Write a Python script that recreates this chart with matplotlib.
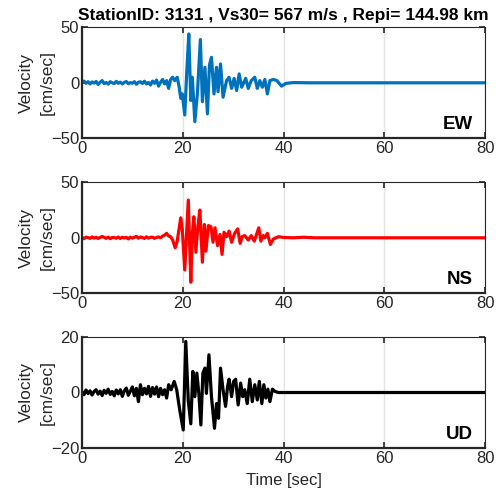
import numpy as np
import matplotlib
matplotlib.use("Agg")
import matplotlib.pyplot as plt

plt.rcParams["font.family"] = ["Liberation Sans", "DejaVu Sans"]

TITLE = "StationID: 3131 , Vs30= 567 m/s , Repi= 144.98 km"

# pre-event noise, sampled every 0.4 s from 0 to 17.2 s
t_noise = np.arange(44) * 0.4
ew_noise = [0.5, 1.5, -0.5, 1.0, -1.0, 0.8, -0.3, 1.2, -1.5, 0.5,
            2.0, -0.8, 0.3, -1.2, 1.0, 0.0, -0.7, 1.3, -0.5, 0.6,
            -1.0, 0.4, 1.1, -0.9, 0.2, -0.4, 1.0, -1.3, 0.5, 0.9,
            -0.6, 1.4, -1.0, 0.3, -2.0, 1.5, -0.5, 2.5, -3.0, 0.5,
            3.0, -1.0, 2.0, -5.0]
ns_noise = [0.5, -0.8, 0.6, 0.2, -0.5, 0.8, -0.3, 0.5, -0.6, 0.3,
            1.2, 0.4, -0.5, 0.6, -0.8, 0.3, 0.2, -0.4, 0.7, -0.6,
            0.5, -0.2, 0.4, -1.0, 0.6, -0.3, 0.5, 1.3, -0.4, 0.8,
            0.2, -0.6, 0.9, -0.3, 0.4, 0.6, -0.5, 0.3, 0.8, 0.1,
            1.5, 2.5, 4.0, 1.5]
ud_noise = [0.3, -0.8, 0.9, -0.4, 0.6, -0.9, 0.4, 1.0, -0.6, 0.5,
            -1.1, 0.8, -0.3, 1.2, -0.7, 0.4, -1.2, 0.9, -0.5, 1.0,
            -1.4, 0.6, 1.6, -1.0, 0.5, 2.0, -1.2, 1.5, -3.3, 2.8,
            -0.8, 1.5, -0.5, 2.2, -1.4, 1.8, -0.6, 2.0, -1.5, 1.5,
            -0.8, 1.0, -2.0, 2.8]

# strong-motion part (time [s], velocity [cm/s])
ew_t = [17.6, 18.0, 18.4, 18.9, 19.3, 19.6, 19.9, 20.4, 20.8, 21.2, 21.6, 21.9,
        22.4, 22.9, 23.5, 23.9, 24.4, 24.9, 25.3, 25.7, 26.2, 26.7, 27.0, 27.5,
        28.0, 28.7, 29.2, 29.7, 30.2, 30.7, 31.2, 31.7, 32.5, 33.0, 33.6, 34.3,
        34.8, 35.3, 35.8, 36.3, 36.8, 37.3, 38.0, 38.7, 39.6, 40.5, 42.0, 45.0, 80.0]
ew_v = [3, 5, 2, 5, -4, -14, -10, -29, 10, 44, -16, 5,
        -35, -10, 39, -17, 14, -28, 16, 23, -10, 14, -8, 17,
        -13, 2, 5, -5, 4, -7, 8, -4, 4, -5, 2, 5,
        -5, 2, -4, 3, -10, 2, 3, 2, -3, -0.5, 0.2, 0, 0]

ns_t = [17.6, 18.0, 18.5, 18.9, 19.6, 19.9, 20.4, 21.1, 21.6, 21.9, 22.2, 22.6,
        23.0, 23.4, 23.9, 24.3, 24.6, 25.1, 25.6, 26.0, 26.4, 26.9, 27.4, 27.8,
        28.2, 28.7, 29.2, 29.7, 30.3, 30.9, 31.4, 31.8, 32.3, 33.0, 33.6, 34.2,
        35.1, 35.5, 36.0, 36.3, 36.8, 37.4, 38.0, 39.0, 40.0, 42.0, 44.0, 46.0, 80.0]
ns_v = [1, -2, -9, -3, 18, 8, -29, 34, -40, 3, 19, -13,
        10, 25, -22, 12, -12, 11, 10, -4, 9, -7, 3, -15,
        5, 1, 6, -4, 4, 8, -5, 1, 2, -2, 2, -3,
        9, -3, 2, 0, 4, -6, -1, 1, 0.3, 0, 0.5, 0, 0]

ud_t = [17.7, 18.3, 18.8, 19.4, 20.1, 20.6, 21.1, 21.6, 22.0, 22.4, 22.8, 23.2,
        23.6, 24.0, 24.4, 24.7, 25.2, 25.7, 26.3, 26.7, 27.1, 27.5, 28.0, 28.5,
        28.9, 29.2, 29.7, 30.1, 30.5, 31.0, 31.5, 31.9, 32.3, 32.8, 33.3, 33.8,
        34.3, 34.8, 35.2, 35.7, 36.1, 36.5, 36.9, 37.3, 37.8, 38.3, 39.0, 40.0, 80.0]
ud_v = [1.0, 4.0, 1.0, -6.3, -13.5, 18.4, -3, -11.3, 7.6, -1.5, 7.0, -0.5,
        -11.7, 7, 8.8, -0.3, 13.6, -1.5, -12.9, -4, -9.3, 8.8, 1, -5,
        2.2, 4.8, -1.5, 4, 4.8, -4.5, 3.4, -1.5, 1, -4, 4.8, -3.3,
        2.8, -2.7, 4, -4, 2.8, -2, 1.2, -3.3, 1.2, 0.4, 0, 0, 0]

panels = [
    ("EW", ew_noise, ew_t, ew_v, "#0072BD", 50),
    ("NS", ns_noise, ns_t, ns_v, "#FF0000", 50),
    ("UD", ud_noise, ud_t, ud_v, "#000000", 20),
]

fig = plt.figure(figsize=(4.98, 4.98), dpi=100)
W, H = 498.0, 498.0
left, right = 82, 485
tops = [27.3, 182.3, 337.0]
height = 111

for i, (name, noise, ta, va, col, lim) in enumerate(panels):
    top = tops[i]
    ax = fig.add_axes([left / W, 1 - (top + height) / H, (right - left) / W, height / H])
    t = np.concatenate([t_noise, ta])
    v = np.concatenate([noise, va])
    ax.plot(t, v, color=col, lw=2.3, solid_joinstyle="round")
    ax.set_xlim(0, 80)
    ax.set_ylim(-lim, lim)
    ax.set_xticks([0, 20, 40, 60, 80])
    ax.set_yticks([-lim, 0, lim])
    ax.grid(axis="x", color="#e3e3e3", lw=1.0)
    ax.set_axisbelow(True)
    ax.tick_params(direction="in", length=4, width=1.2, top=True, right=True,
                   labelsize=12, colors="#262626", pad=2)
    for s in ["left", "bottom"]:
        ax.spines[s].set_linewidth(1.6)
        ax.spines[s].set_color("#262626")
    for s in ["top", "right"]:
        ax.spines[s].set_linewidth(0.8)
        ax.spines[s].set_color("#262626")
    ax.set_ylabel("Velocity\n[cm/sec]", fontsize=12.5, color="#262626", linespacing=1.45)
    ax.yaxis.set_label_coords(-0.068, 0.5)
    ax.text(0.97, 0.12, name, transform=ax.transAxes, ha="right", va="center",
            fontsize=13.5, fontweight="bold", color="#000000")
    if i == 0:
        ax.set_title(TITLE, fontsize=12.5, fontweight="bold", pad=5)
    if i == 2:
        ax.set_xlabel("Time [sec]", fontsize=12, color="#262626", labelpad=5)

fig.savefig("out.png", dpi=100)
